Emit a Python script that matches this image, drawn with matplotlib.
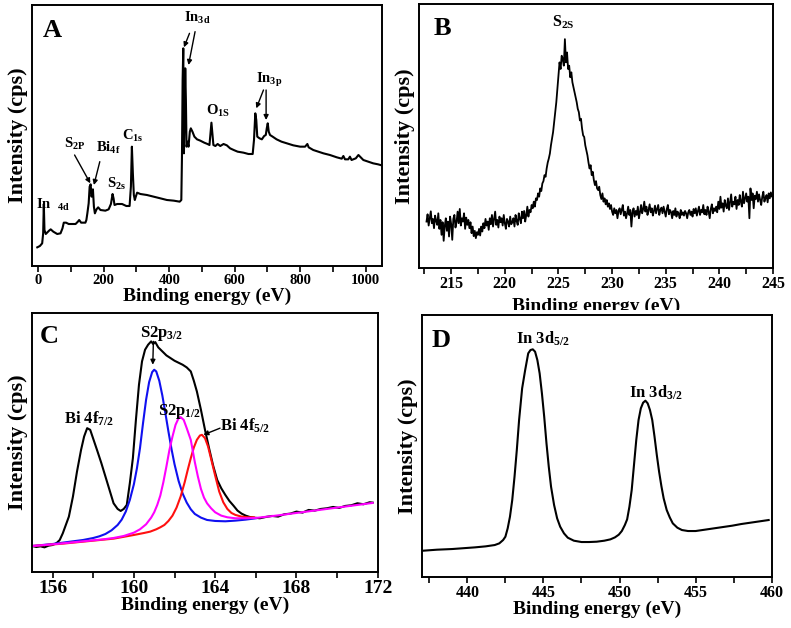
import numpy as np
import matplotlib
matplotlib.use("Agg")
import matplotlib.pyplot as plt
from matplotlib.ticker import MultipleLocator, NullLocator
from matplotlib.transforms import Bbox, TransformedBbox

plt.rcParams['font.family'] = ['Liberation Serif', 'DejaVu Serif']
plt.rcParams['font.weight'] = 'bold'
plt.rcParams['mathtext.fontset'] = 'custom'
plt.rcParams['mathtext.rm'] = 'Liberation Serif:bold'
plt.rcParams['mathtext.it'] = 'Liberation Serif:bold'
plt.rcParams['mathtext.bf'] = 'Liberation Serif:bold'

# ---------------- Panel A: survey spectrum ----------------
survey_ev = [-3, 5, 12, 15, 17, 19, 23, 33, 38, 46, 58, 68, 74, 78, 85, 93, 114, 121, 125,
             131, 144, 147, 150, 154, 157, 160, 163, 167, 170, 173, 178, 183, 190, 205, 215,
             222, 227, 230, 233, 241, 256, 269, 279, 283, 286, 289, 292, 295, 298, 302, 312,
             332, 353, 373, 393, 414, 432, 437, 439, 441, 443, 444, 445, 447, 449, 451, 453,
             456, 459, 463, 466, 471, 477, 485, 495, 507, 517, 523, 526, 529, 532, 535, 541,
             548, 556, 566, 576, 586, 597, 609, 627, 642, 655, 659, 663, 666, 669, 676, 683,
             690, 695, 698, 701, 704, 708, 716, 728, 743, 759, 779, 800, 815, 822, 826, 840,
             856, 871, 891, 912, 927, 932, 937, 947, 952, 957, 970, 978, 985, 993, 1008,
             1023, 1038, 1049]
survey_int = [56, 60, 68, 98, 186, 108, 96, 106, 110, 103, 96, 98, 113, 130, 130, 126, 126,
              133, 138, 130, 130, 138, 158, 188, 238, 245, 208, 230, 178, 158, 170, 176, 168,
              166, 170, 186, 216, 203, 183, 186, 186, 180, 180, 238, 358, 278, 213, 198, 208,
              220, 216, 213, 208, 203, 198, 196, 193, 198, 328, 558, 653, 498, 338, 468, 593,
              498, 358, 373, 358, 403, 413, 403, 388, 380, 376, 370, 366, 363, 398, 430, 398,
              363, 360, 366, 360, 366, 362, 353, 348, 343, 340, 336, 336, 378, 458, 438, 388,
              383, 380, 390, 393, 413, 428, 403, 393, 388, 380, 373, 368, 362, 358, 358, 366,
              356, 348, 343, 338, 333, 326, 322, 330, 320, 320, 328, 318, 323, 333, 326, 318,
              313, 308, 305, 302]

# ---------------- Panel B: S 2s ----------------
s2s_int = [
    140, 162, 128, 150, 171, 135, 148, 120, 158, 142,
    130, 165, 118, 145, 100, 138, 82, 126, 150, 112,
    140, 95, 155, 132, 85, 148, 160, 122, 138, 170,
    135, 178, 128, 150, 140, 165, 118, 152, 130, 145,
    120, 138, 105, 125, 96, 112, 90, 108, 100, 118,
    98, 125, 110, 135, 120, 148, 128, 140, 115, 150,
    132, 160, 125, 148, 170, 130, 145, 122, 155, 138,
    150, 128, 160, 135, 118, 148, 140, 125, 155, 132,
    138, 150, 125, 160, 142, 130, 165, 148, 135, 170,
    150, 172, 140, 160, 185, 155, 175, 168, 190, 180,
    200, 185, 210, 205, 225, 215, 240, 232, 255, 262,
    280, 275, 300, 318, 330, 345, 370, 390, 410, 440,
    470, 500, 540, 580, 620, 600, 640, 630, 610, 690,
    620, 650, 600, 610, 575, 590, 560, 545, 530, 515,
    500, 480, 470, 445, 450, 420, 400, 395, 370, 355,
    340, 318, 300, 310, 280, 290, 265, 250, 262, 240,
    235, 245, 220, 208, 225, 200, 210, 192, 205, 185,
    195, 178, 190, 170, 160, 180, 165, 175, 150, 172,
    180, 162, 175, 190, 158, 170, 150, 165, 185, 160,
    175, 125, 168, 180, 155, 172, 160, 185, 150, 168,
    190, 165, 178, 200, 170, 185, 160, 175, 192, 168,
    180, 158, 172, 188, 165, 178, 190, 160, 175, 182,
    165, 185, 170, 155, 178, 190, 162, 175, 168, 150,
    172, 160, 180, 155, 170, 165, 150, 175, 160, 168,
    158, 172, 165, 150, 168, 175, 160, 170, 155, 178,
    165, 180, 158, 172, 185, 160, 175, 168, 190, 162,
    175, 160, 185, 170, 150, 178, 192, 165, 180, 172,
    185, 168, 200, 178, 215, 182, 195, 170, 205, 188,
    180, 210, 175, 198, 222, 185, 200, 192, 215, 178,
    205, 190, 220, 200, 185, 230, 195, 210, 225, 200,
    215, 150, 240, 205, 225, 180, 218, 208, 230, 200,
    222, 205, 190, 215, 230, 200, 212, 220, 198, 225,
    210, 228, 215, 220]
s2s_start, s2s_stop = 212.7, 245.0

# ---------------- Panel C: S 2p / Bi 4f ----------------
c_raw_ev = [155.0, 155.2, 155.4, 155.6, 155.8, 156.0, 156.2, 156.35, 156.5, 156.65, 156.8,
            157.0, 157.2, 157.4, 157.55, 157.7, 157.85, 158.0, 158.2, 158.4, 158.6, 158.8,
            159.0, 159.2, 159.35, 159.5, 159.65, 159.8, 159.95, 160.1, 160.25, 160.4, 160.55,
            160.7, 160.85, 160.95, 161.05, 161.2, 161.4, 161.6, 161.8, 162.0, 162.2, 162.4,
            162.6, 162.8, 162.95, 163.1, 163.3, 163.5, 163.7, 163.9, 164.1, 164.3, 164.5,
            164.7, 164.9, 165.1, 165.3, 165.5, 165.7, 165.9, 166.2, 166.5, 166.8, 167.1,
            167.4, 167.7, 168.0, 168.3, 168.6, 168.9, 169.2, 169.5, 169.8, 170.1, 170.4,
            170.7, 171.0, 171.3, 171.6, 171.75]
c_raw_int = [77, 74, 76, 73, 78, 80, 86, 95, 115, 140, 165, 225, 300, 365, 405, 430, 425,
             398, 362, 325, 285, 245, 205, 188, 182, 188, 200, 265, 340, 455, 560, 630, 665,
             680, 690, 682, 688, 672, 660, 648, 640, 632, 626, 620, 612, 600, 572, 540, 485,
             425, 370, 318, 275, 250, 230, 212, 198, 183, 174, 168, 164, 162, 160, 164, 167,
             165, 172, 174, 180, 177, 185, 183, 188, 190, 194, 191, 197, 199, 205, 202, 208, 207]

c_s2p32_ev = [155.0, 155.5, 156.0, 156.5, 157.0, 157.5, 158.0, 158.3, 158.6, 158.9, 159.2,
              159.4, 159.6, 159.8, 160.0, 160.15, 160.3, 160.45, 160.6, 160.75, 160.9, 161.0,
              161.1, 161.25, 161.4, 161.55, 161.7, 161.85, 162.0, 162.2, 162.4, 162.6, 162.8,
              163.0, 163.3, 163.6, 164.0, 164.5, 165.0, 165.5, 166.0]
c_s2p32_int = [77, 80, 83, 87, 91, 95, 101, 106, 113, 124, 140, 156, 180, 215, 262, 310, 370,
               445, 515, 568, 598, 605, 600, 572, 528, 475, 420, 368, 322, 272, 234, 207, 187,
               173, 162, 155, 152, 151, 153, 156, 160]

c_s2p12_ev = [155.0, 156.0, 157.0, 158.0, 158.5, 159.0, 159.5, 160.0, 160.3, 160.6, 160.85,
              161.0, 161.15, 161.3, 161.45, 161.6, 161.75, 161.9, 162.05, 162.2, 162.3, 162.45,
              162.6, 162.8, 163.0, 163.15, 163.3, 163.45, 163.6, 163.8, 164.0, 164.3, 164.6,
              165.0, 165.5, 166.0, 167.0, 168.0, 169.0, 170.0, 171.0, 171.75]
c_s2p12_int = [77, 82, 88, 94, 97, 101, 107, 117, 127, 142, 162, 178, 200, 228, 268, 315, 365,
               405, 440, 460, 463, 455, 430, 395, 328, 285, 248, 222, 205, 190, 178, 168, 163,
               160, 160, 161, 168, 176, 184, 192, 200, 206]

c_bi52_ev = [155.0, 156.5, 158.0, 159.0, 160.0, 160.5, 160.8, 161.1, 161.3, 161.5, 161.7,
             161.9, 162.1, 162.3, 162.5, 162.65, 162.8, 162.95, 163.1, 163.25, 163.35, 163.5,
             163.65, 163.8, 164.0, 164.2, 164.4, 164.6, 164.8, 165.0, 165.3, 165.6, 165.9]
c_bi52_int = [77, 84, 93, 99, 110, 116, 120, 127, 133, 140, 152, 168, 192, 225, 268, 305, 340,
              372, 395, 408, 410, 400, 375, 338, 288, 240, 208, 188, 176, 170, 165, 163, 163]

# ---------------- Panel D: In 3d ----------------
d_ev = [437.1, 438.0, 439.0, 439.6, 440.5, 441.2, 441.8, 442.1, 442.35, 442.5, 442.65, 442.8,
        442.95, 443.1, 443.25, 443.4, 443.6, 443.8, 444.0, 444.15, 444.3, 444.45, 444.6, 444.75,
        444.9, 445.05, 445.2, 445.35, 445.5, 445.7, 445.9, 446.1, 446.35, 446.6, 447.0, 447.5,
        448.0, 448.5, 449.0, 449.4, 449.7, 449.95, 450.15, 450.35, 450.5, 450.65, 450.8, 450.95,
        451.1, 451.25, 451.4, 451.55, 451.7, 451.85, 452.0, 452.15, 452.3, 452.45, 452.6,
        452.75, 452.9, 453.1, 453.3, 453.5, 453.8, 454.1, 454.5, 455.0, 455.6, 456.2, 456.8,
        457.4, 458.0, 458.6, 459.2, 459.8]
d_int = [78, 81, 83, 85, 88, 91, 95, 100, 110, 120, 145, 180, 230, 300, 380, 470, 565, 620,
         670, 680, 682, 675, 650, 610, 550, 480, 400, 330, 270, 215, 175, 150, 130, 117, 108,
         104, 104, 105, 108, 112, 118, 126, 137, 155, 172, 210, 260, 335, 410, 470, 505, 522,
         528, 520, 500, 470, 420, 365, 315, 272, 235, 200, 178, 160, 147, 140, 137, 137, 141,
         145, 149, 153, 158, 162, 166, 170]

xlabel = "Binding energy (eV)"
ylabel = "Intensity (cps)"

fig = plt.figure(figsize=(7.91, 6.28), dpi=100)
W, H = 791.0, 628.0


def make_ax(x0, y0, x1, y1):
    return fig.add_axes([x0 / W, 1 - y1 / H, (x1 - x0) / W, (y1 - y0) / H])


def style(ax, xlim, ylim, major, minor, tick_fs, xpad=0, ypad=3):
    ax.set_xlim(*xlim)
    ax.set_ylim(*ylim)
    ax.xaxis.set_major_locator(MultipleLocator(major))
    ax.xaxis.set_minor_locator(MultipleLocator(minor))
    ax.yaxis.set_major_locator(NullLocator())
    ax.yaxis.set_minor_locator(NullLocator())
    ax.tick_params(axis='x', which='both', direction='out', length=4, width=1.2,
                   labelsize=tick_fs, pad=2)
    for lab in ax.get_xticklabels():
        lab.set_fontweight('bold')
    for s in ax.spines.values():
        s.set_linewidth(1.4)
    ax.set_xlabel(xlabel, fontsize=14, fontweight='bold', labelpad=xpad)
    ax.set_ylabel(ylabel, fontsize=16, fontweight='bold', labelpad=ypad)


lw = 1.5
ann_fs = 10.5

# Panel A
axA = make_ax(31.7, 5, 382, 266)
axA.plot(survey_ev, survey_int, color='black', lw=lw)
style(axA, (-20, 1050), (0, 783), 200, 100, 10.5)
axA.text(0.032, 0.877, "A", transform=axA.transAxes, fontsize=19, fontweight='bold')
axA.text(-8, 170, r"In  ${}_{4d}$", fontsize=ann_fs)
axA.text(78, 353, r"S$_{2P}$", fontsize=ann_fs)
axA.text(175, 343, r"Bi$_{4f}$", fontsize=ann_fs)
axA.text(210, 233, r"S$_{2s}$", fontsize=ann_fs)
axA.text(256, 378, r"C$_{1s}$", fontsize=ann_fs)
axA.text(444, 733, r"In$_{3d}$", fontsize=ann_fs)
axA.text(513, 453, r"O$_{1S}$", fontsize=ann_fs)
axA.text(666, 548, r"In$_{3p}$", fontsize=ann_fs)
arrow = dict(arrowstyle='-|>', color='black', lw=1.0, mutation_scale=7,
             shrinkA=0, shrinkB=0)
axA.annotate("", xy=(159, 248), xytext=(111, 333), arrowprops=arrow)
axA.annotate("", xy=(170, 243), xytext=(188, 313), arrowprops=arrow)
axA.annotate("", xy=(445, 656), xytext=(462, 698), arrowprops=arrow)
axA.annotate("", xy=(459, 603), xytext=(479, 703), arrowprops=arrow)
axA.annotate("", xy=(666, 473), xytext=(688, 528), arrowprops=arrow)
axA.annotate("", xy=(696, 438), xytext=(696, 528), arrowprops=arrow)

# Panel B
axB = make_ax(419, 4, 773, 268)
s2s_ev = np.linspace(s2s_start, s2s_stop, len(s2s_int))
axB.plot(s2s_ev, s2s_int, color='black', lw=1.3)
style(axB, (212, 245), (0, 796), 5, 2.5, 11.5, xpad=4)
axB.text(0.042, 0.883, "B", transform=axB.transAxes, fontsize=19, fontweight='bold')
axB.text(225.4, 728, r"S$_{2S}$", fontsize=11.5, ha='center')
clipbb = TransformedBbox(Bbox([[0.5, 1 - 310 / H], [1.0, 1.0]]), fig.transFigure)
axB.xaxis.label.set_clip_box(clipbb)
axB.xaxis.label.set_clip_on(True)

# Panel C
axC = make_ax(32.3, 313, 377.7, 571.7)
axC.plot(c_raw_ev, c_raw_int, color='black', lw=lw)
axC.plot(c_s2p32_ev, c_s2p32_int, color='#1010f0', lw=lw)
axC.plot(c_bi52_ev, c_bi52_int, color='#ff1010', lw=lw)
axC.plot(c_s2p12_ev, c_s2p12_int, color='#ff00ff', lw=lw)
style(axC, (155, 172), (0, 775), 4, 2, 14)
axC.text(0.022, 0.884, "C", transform=axC.transAxes, fontsize=19, fontweight='bold')
axC.text(160.3, 703, r"S2p$_{3/2}$", fontsize=12)
axC.text(156.56, 445, r"Bi 4f$_{7/2}$", fontsize=12)
axC.text(161.2, 470, r"S2p$_{1/2}$", fontsize=12)
axC.text(164.24, 423, r"Bi 4f$_{5/2}$", fontsize=12)
axC.annotate("", xy=(160.93, 620), xytext=(160.96, 690), arrowprops=arrow)
axC.annotate("", xy=(163.42, 410), xytext=(164.24, 430), arrowprops=arrow)

# Panel D
axD = make_ax(421.7, 315, 771.7, 576.7)
axD.plot(d_ev, d_int, color='black', lw=lw)
style(axD, (437, 460), (0, 785), 5, 2.5, 11.5)
axD.text(0.029, 0.878, "D", transform=axD.transAxes, fontsize=19, fontweight='bold')
axD.text(443.2, 700, r"In 3d$_{5/2}$", fontsize=12)
axD.text(450.6, 538, r"In 3d$_{3/2}$", fontsize=12)

fig.savefig("out.png", dpi=100)
